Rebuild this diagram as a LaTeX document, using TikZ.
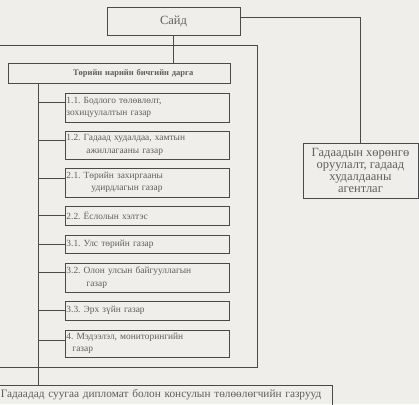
\documentclass[tikz,border=0pt]{standalone}
\usepackage{fontspec}
\setmainfont{Liberation Serif}
\usetikzlibrary{positioning}
\definecolor{paper}{HTML}{EFEEEB}
\definecolor{ink}{HTML}{4A4A4A}
\definecolor{txt}{HTML}{5E5E5E}
\tikzset{
	orgbox/.style={draw=ink, line width=0.9pt, text=txt, inner sep=1pt},
	unitbox/.style={orgbox, anchor=west, minimum width=164pt, text width=162pt, align=left, font=\fontsize{9.4}{12.5}\selectfont},
	link/.style={draw=ink, line width=0.9pt}
}

\begin{document}
\frenchspacing
\begin{tikzpicture}[x=1pt,y=-1pt]
		\fill[paper] (0,0) rectangle (419,404);
		\useasboundingbox (0,0) rectangle (419,404);
		% top levels
		\node[orgbox, minimum width=133pt, minimum height=28pt, font=\fontsize{12.5}{14}\selectfont] (sayd) at (173.5,21) {Сайд};
		\node[orgbox, minimum width=222pt, text width=220pt, minimum height=20pt, align=left, font=\bfseries\fontsize{8.5}{10}\selectfont] (tnbd) at (119,73) {\hspace*{64pt}Төрийн нарийн бичгийн дарга};
		\node[orgbox, minimum width=115pt, minimum height=55pt, align=center, font=\fontsize{12.5}{12}\selectfont] (agency) at (360.5,170.5) {Гадаадын хөрөнгө\\оруулалт, гадаад\\худалдааны\\агентлаг};
		\node[orgbox, anchor=north west, minimum width=333pt, text width=330pt, minimum height=26pt, text depth=10pt, align=left, font=\fontsize{11.3}{12}\selectfont] (embassy) at (-1,385) {Гадаадад суугаа дипломат болон консулын төлөөлөгчийн газрууд};
		% units
		\node[unitbox, minimum height=29pt] (u11) at (65,107.5) {1.1. Бодлого төлөвлөлт,\\зохицуулалтын газар};
		\node[unitbox, minimum height=28pt] (u12) at (65,145) {1.2. Гадаад худалдаа, хамтын\\\hspace*{20pt}ажиллагааны газар};
		\node[unitbox, minimum height=29pt] (u21) at (65,182.5) {2.1. Төрийн захиргааны\\\hspace*{25pt}удирдлагын газар};
		\node[unitbox, minimum height=19pt] (u22) at (65,215.5) {2.2. Ёслолын хэлтэс};
		\node[unitbox, minimum height=18pt] (u31) at (65,244) {3.1. Улс төрийн газар};
		\node[unitbox, minimum height=29pt] (u32) at (65,277.5) {3.2. Олон улсын байгууллагын\\\hspace*{20pt}газар};
		\node[unitbox, minimum height=19pt] (u33) at (65,310.5) {3.3. Эрх зүйн газар};
		\node[unitbox, minimum height=27pt] (u4) at (65,343.5) {4. Мэдээлэл, мониторингийн\\\hspace*{6pt}газар};
		% frame round the apparatus
		\draw[link] (0,45) -- (257,45) -- (257,367) -- (0,367);
		% connectors
		\coordinate (spine) at (38,83);
		\draw[link] (sayd.south) -- (sayd.south |- tnbd.north);
		\draw[link] ([yshift=4pt]sayd.east) -| (agency.north);
		\draw[link] (spine) -- (spine |- embassy.north);
		\foreach \n/\d in {u11/5,u12/5,u21/4.5,u22/0,u31/0,u32/5.5,u33/0,u4/3.5}
			\draw[link] ([yshift=\d pt]\n.west) -- ++(-27,0);
	\end{tikzpicture}
\end{document}
